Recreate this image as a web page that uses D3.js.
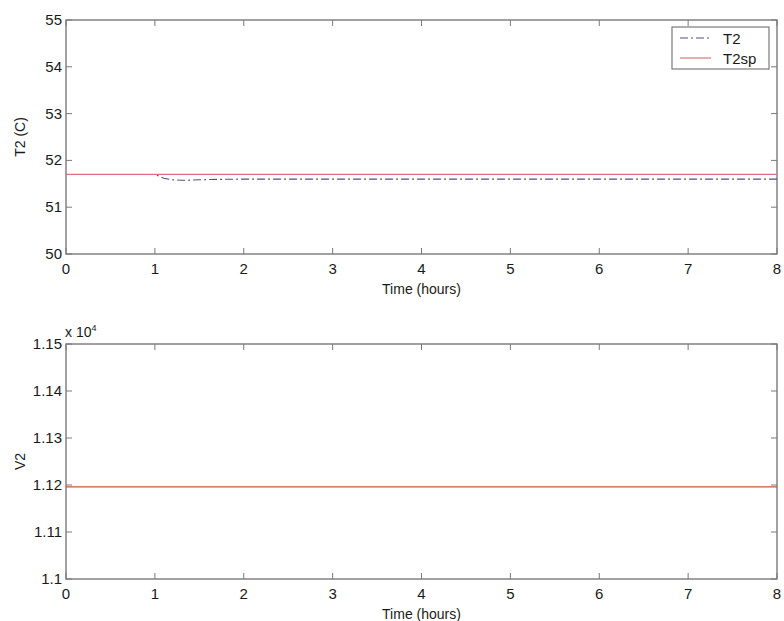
<!DOCTYPE html>
<html>
<head>
<meta charset="utf-8">
<script src="https://cdn.jsdelivr.net/npm/d3@7"></script>
<style>
  body { margin: 0; background: #fff; }
  text { font-family: "Liberation Sans", Arial, sans-serif; fill: #1a1a1a; }
</style>
</head>
<body>
<div class="chart"></div>
<script>
// time axis (hours)
var timeTicks = [0, 1, 2, 3, 4, 5, 6, 7, 8];
var t2Ticks = [50, 51, 52, 53, 54, 55];
var v2Ticks = [11000, 11100, 11200, 11300, 11400, 11500];
var v2TickLabels = ['1.1', '1.11', '1.12', '1.13', '1.14', '1.15'];

// T2 response and setpoint
var t2Time = [0, 1, 1.05, 1.1, 1.2, 1.3, 1.4, 1.5, 1.6, 1.8, 2, 3, 4, 5, 6, 7, 8];
var t2Vals = [51.7, 51.7, 51.66, 51.62, 51.585, 51.575, 51.578, 51.585, 51.59, 51.597, 51.6, 51.6, 51.6, 51.6, 51.6, 51.6, 51.6];
var t2spTime = [0, 8];
var t2spVals = [51.7, 51.7];

// V2
var v2Time = [0, 8];
var v2Vals = [11196, 11196];

var W = 784, H = 621;
var svg = d3.select('.chart').append('svg')
    .attr('width', W)
    .attr('height', H);

var x = d3.scaleLinear().domain([0, 8]).range([66, 777]);

function drawPanel(y, yTicks, yLabels, ylab, xlab) {
  var top = y.range()[1], bottom = y.range()[0];
  var left = x.range()[0], right = x.range()[1];
  var g = svg.append('g');
  var tk = 6;

  // box
  g.append('rect')
      .attr('x', left).attr('y', top)
      .attr('width', right - left).attr('height', bottom - top)
      .attr('fill', 'none')
      .attr('stroke', '#7a7a7a')
      .attr('stroke-width', 1.4);

  // x ticks, inward top and bottom
  timeTicks.forEach(function(t) {
    g.append('line').attr('x1', x(t)).attr('x2', x(t))
        .attr('y1', bottom).attr('y2', bottom - tk)
        .attr('stroke', '#7a7a7a');
    g.append('line').attr('x1', x(t)).attr('x2', x(t))
        .attr('y1', top).attr('y2', top + tk)
        .attr('stroke', '#7a7a7a');
    g.append('text')
        .attr('x', x(t)).attr('y', bottom + 20)
        .attr('text-anchor', 'middle')
        .attr('font-size', 15)
        .text(t);
  });

  // y ticks, inward left and right
  yTicks.forEach(function(v, i) {
    g.append('line').attr('x1', left).attr('x2', left + tk)
        .attr('y1', y(v)).attr('y2', y(v))
        .attr('stroke', '#7a7a7a');
    g.append('line').attr('x1', right).attr('x2', right - tk)
        .attr('y1', y(v)).attr('y2', y(v))
        .attr('stroke', '#7a7a7a');
    g.append('text')
        .attr('x', left - 4).attr('y', y(v) + 5)
        .attr('text-anchor', 'end')
        .attr('font-size', 15)
        .text(yLabels[i]);
  });

  g.append('text')
      .attr('x', (left + right) / 2).attr('y', bottom + 40)
      .attr('text-anchor', 'middle')
      .attr('font-size', 14)
      .text(xlab);

  g.append('text')
      .attr('transform', 'translate(25,' + ((top + bottom) / 2) + ') rotate(-90)')
      .attr('text-anchor', 'middle')
      .attr('font-size', 14)
      .text(ylab);
  return g;
}

// top panel
var y1 = d3.scaleLinear().domain([50, 55]).range([254, 20]);
drawPanel(y1, t2Ticks, t2Ticks.map(String), 'T2 (C)', 'Time (hours)');

var line1 = d3.line()
    .x(function(d) { return x(d[0]); })
    .y(function(d) { return y1(d[1]); });

svg.append('path')
    .datum(d3.zip(t2Time, t2Vals))
    .attr('d', line1)
    .attr('fill', 'none')
    .attr('stroke', '#50508a')
    .attr('stroke-width', 1.1)
    .attr('stroke-dasharray', '8,3,2,3');

svg.append('path')
    .datum(d3.zip(t2spTime, t2spVals))
    .attr('d', line1)
    .attr('fill', 'none')
    .attr('stroke', '#dc7080')
    .attr('stroke-width', 1.3);

// legend
var lg = svg.append('g');
lg.append('rect')
    .attr('x', 672).attr('y', 27)
    .attr('width', 97).attr('height', 42)
    .attr('fill', '#fff')
    .attr('stroke', '#7a7a7a')
    .attr('stroke-width', 1.2);
lg.append('line')
    .attr('x1', 680).attr('x2', 711).attr('y1', 38).attr('y2', 38)
    .attr('stroke', '#50508a').attr('stroke-dasharray', '8,3,2,3');
lg.append('line')
    .attr('x1', 680).attr('x2', 711).attr('y1', 58).attr('y2', 58)
    .attr('stroke', '#d85a5a');
lg.append('text').attr('x', 723).attr('y', 44).attr('font-size', 15).text('T2');
lg.append('text').attr('x', 723).attr('y', 64).attr('font-size', 15).text('T2sp');

// bottom panel
var y2 = d3.scaleLinear().domain([11000, 11500]).range([579, 344]);
drawPanel(y2, v2Ticks, v2TickLabels, 'V2', 'Time (hours)');

var line2 = d3.line()
    .x(function(d) { return x(d[0]); })
    .y(function(d) { return y2(d[1]); });

svg.append('path')
    .datum(d3.zip(v2Time, v2Vals))
    .attr('d', line2)
    .attr('fill', 'none')
    .attr('stroke', '#c9553a')
    .attr('stroke-width', 1.2);

// exponent label
var ex = svg.append('text')
    .attr('x', 65).attr('y', 337)
    .attr('font-size', 14);
ex.append('tspan').text('x 10');
ex.append('tspan').attr('dy', -6).attr('font-size', 9).text('4');
</script>
</body>
</html>
